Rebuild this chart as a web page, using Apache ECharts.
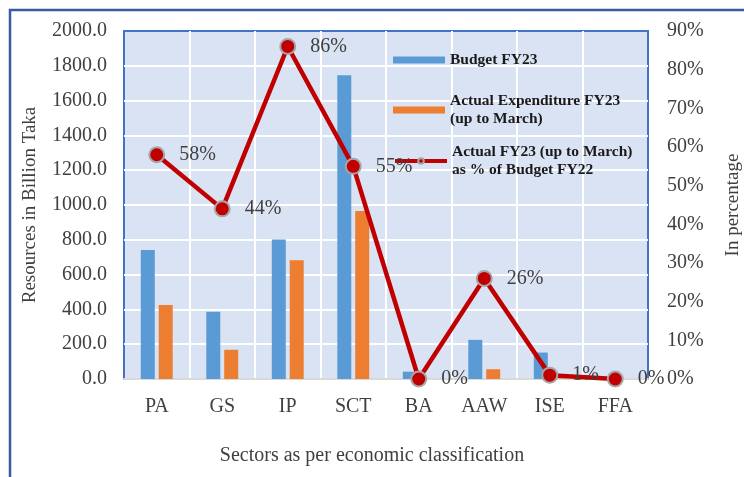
<!DOCTYPE html>
<html>
<head>
<meta charset="utf-8">
<title>Sectors chart</title>
<script src="https://cdn.jsdelivr.net/npm/echarts@6/dist/echarts.min.js"></script>
<style>
    html, body { margin: 0; padding: 0; background: #fff; }
    #main { width: 744px; height: 477px; }
</style>
</head>
<body>
<div id="main"></div>
<script>
// 数据
var categories = ['PA', 'GS', 'IP', 'SCT', 'BA', 'AAW', 'ISE', 'FFA'];
var budgetData = [742, 386, 802, 1745, 42, 225, 152, 0];
var actualData = [425, 168, 682, 966, 0, 56, 2, 0];
var percentData = [58, 44, 86, 55, 0, 26, 1, 0];
var leftTicks = { min: 0, max: 2000, interval: 200 };
var rightTicks = { min: 0, max: 90, interval: 10 };

var serif = "'Liberation Serif', 'Times New Roman', serif";
var textColor = '#404040';

var myChart = echarts.init(document.getElementById('main'));

var option = {
    backgroundColor: '#fff',
    animation: false,
    //外框
    graphic: [
        { type: 'line', shape: { x1: 9, y1: 10, x2: 744, y2: 10 }, style: { stroke: '#3A5BA0', lineWidth: 2.5 } },
        { type: 'line', shape: { x1: 10, y1: 9, x2: 10, y2: 477 }, style: { stroke: '#3A5BA0', lineWidth: 2.5 } },
        {
            type: 'text', left: 'center', top: 446,
            x: 15,
            style: { text: 'Sectors as per economic classification', font: '20px ' + serif, fill: textColor }
        }
    ],
    grid: {
        left: 124,
        right: 96,
        top: 31,
        bottom: 98,
        outerBoundsMode: 'none',
        show: true,
        backgroundColor: '#DAE3F3',
        borderColor: '#4472C4',
        borderWidth: 2
    },
    //图例
    legend: [
        {
            data: [{ name: 'Budget FY23', icon: 'rect' }],
            left: 388, top: 46,
            itemWidth: 52, itemHeight: 7, itemGap: 0,
            selectedMode: false,
            textStyle: { fontFamily: serif, fontWeight: 'bold', fontSize: 15.5, color: '#1a1a1a', lineHeight: 18 }
        },
        {
            data: [{ name: 'Actual Expenditure FY23\n(up to March)', icon: 'rect' }],
            left: 388, top: 78,
            itemWidth: 52, itemHeight: 7, itemGap: 0,
            selectedMode: false,
            textStyle: { fontFamily: serif, fontWeight: 'bold', fontSize: 15.5, color: '#1a1a1a', lineHeight: 18, padding: [18, 0, 0, 0] }
        },
        {
            data: ['Actual FY23 (up to March)\nas % of Budget FY22'],
            left: 388, top: 129,
            itemWidth: 52, itemHeight: 7, itemGap: 0,
            selectedMode: false,
            lineStyle: { width: 4 },
            textStyle: { fontFamily: serif, fontWeight: 'bold', fontSize: 15.5, color: '#1a1a1a', lineHeight: 18, padding: [18, 0, 0, 0] }
        }
    ],
    xAxis: {
        type: 'category',
        data: categories,
        axisTick: { show: false },
        axisLine: { lineStyle: { color: '#D9D9D9', width: 2 } },
        axisLabel: { margin: 18, fontFamily: serif, fontSize: 20, color: textColor },
        splitLine: { show: true, showMinLine: false, showMaxLine: false, lineStyle: { color: '#fff', width: 2 } }
    },
    yAxis: [
        {
            type: 'value',
            min: leftTicks.min, max: leftTicks.max, interval: leftTicks.interval,
            name: 'Resources in Billion Taka',
            nameLocation: 'middle',
            nameGap: 84,
            nameTextStyle: { fontFamily: serif, fontSize: 19, color: textColor },
            axisLine: { show: false },
            axisTick: { show: false },
            axisLabel: {
                margin: 17, fontFamily: serif, fontSize: 20, color: textColor,
                formatter: function (v) { return v.toFixed(1); }
            },
            splitLine: { showMinLine: false, showMaxLine: false, lineStyle: { color: '#fff', width: 2 } }
        },
        {
            type: 'value',
            min: rightTicks.min, max: rightTicks.max, interval: rightTicks.interval,
            name: 'In percentage',
            nameLocation: 'middle',
            nameGap: 76,
            nameRotate: 90,
            nameTextStyle: { fontFamily: serif, fontSize: 19, color: textColor },
            axisLine: { show: false },
            axisTick: { show: false },
            axisLabel: { margin: 19, fontFamily: serif, fontSize: 20, color: textColor, formatter: '{value}%' },
            splitLine: { show: false }
        }
    ],
    series: [
        {
            name: 'Budget FY23',
            type: 'bar',
            data: budgetData,
            barWidth: 14,
            barGap: '28%',
            itemStyle: { color: '#5B9BD5' }
        },
        {
            name: 'Actual Expenditure FY23\n(up to March)',
            type: 'bar',
            data: actualData,
            barWidth: 14,
            itemStyle: { color: '#ED7D31' }
        },
        {
            name: 'Actual FY23 (up to March)\nas % of Budget FY22',
            type: 'line',
            yAxisIndex: 1,
            data: percentData,
            symbol: 'circle',
            symbolSize: 15,
            lineStyle: { color: '#C00000', width: 4.5 },
            itemStyle: { color: '#C00000', borderColor: '#A6A6A6', borderWidth: 2 },
            label: {
                show: true,
                position: 'right',
                distance: 14,
                formatter: '{c}%',
                fontFamily: serif,
                fontSize: 20,
                color: textColor
            },
            z: 5
        }
    ]
};

myChart.setOption(option);
</script>
</body>
</html>
